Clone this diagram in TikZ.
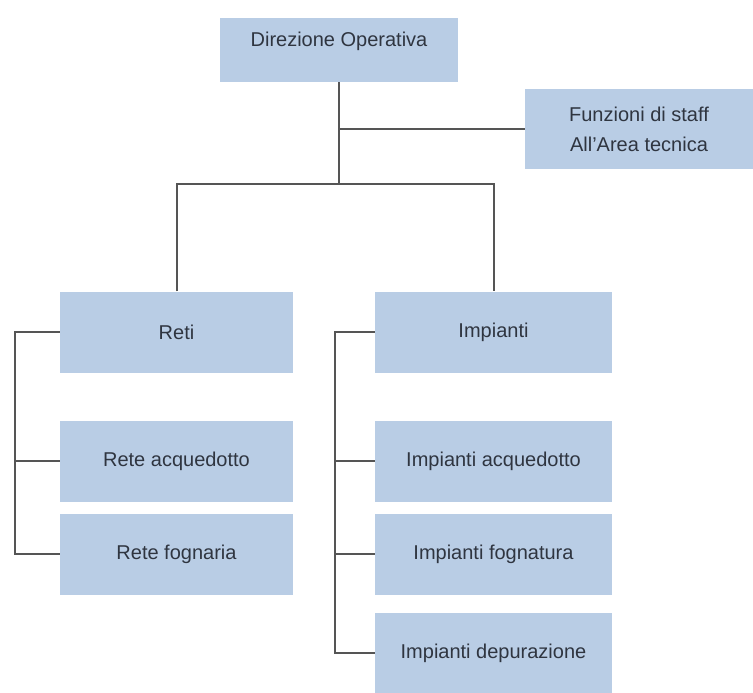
\documentclass[tikz,border=0pt]{standalone}
\usepackage{fontspec}
\setmainfont{Liberation Sans}
\definecolor{boxblue}{HTML}{B9CDE5}
\definecolor{linegray}{HTML}{555555}
\definecolor{textgray}{HTML}{2F3540}
\begin{document}
\begin{tikzpicture}[x=1pt,y=-1pt,every node/.style={fill=boxblue,text=textgray,inner sep=0pt,align=center,font=\fontsize{20}{30}\selectfont},left box/.style={minimum width=233pt,minimum height=81pt},right box/.style={minimum width=237pt,minimum height=81pt},conn/.style={draw=linegray,line width=2pt}]
\useasboundingbox (0,0) rectangle (753,693);
\node[minimum width=238pt,text height=29pt,text depth=35pt] (dir) at (339,50) {Direzione Operativa};
\node[minimum width=228pt,minimum height=80pt] (staff) at (639,129) {Funzioni di staff\\All'Area tecnica};
\node[left box] (reti) at (176.5,332) {Reti};
\node[left box] (reteacq) at (176.5,461) {Rete acquedotto};
\node[left box] (retefogn) at (176.5,554) {Rete fognaria};
\node[right box] (impianti) at (493.5,332) {Impianti};
\node[right box] (impacq) at (493.5,461) {Impianti acquedotto};
\node[right box] (impfogn) at (493.5,554) {Impianti fognatura};
\node[right box,minimum height=80pt] (impdep) at (493.5,653) {Impianti depurazione};
\coordinate (split) at (dir.south |- 0,184);
\draw[conn] (dir.south) -- (split);
\draw[conn] (dir.south |- staff.west) -- (staff.west);
\draw[conn] (reti.north) |- (split) -| (impianti.north);
\draw[conn] (reti.west) -- ++(-45,0) |- (retefogn.west);
\draw[conn] (reteacq.west) -- ++(-45,0);
\draw[conn] (impianti.west) -- ++(-40,0) |- (impdep.west);
\draw[conn] (impacq.west) -- ++(-40,0);
\draw[conn] (impfogn.west) -- ++(-40,0);
\end{tikzpicture}
\end{document}
